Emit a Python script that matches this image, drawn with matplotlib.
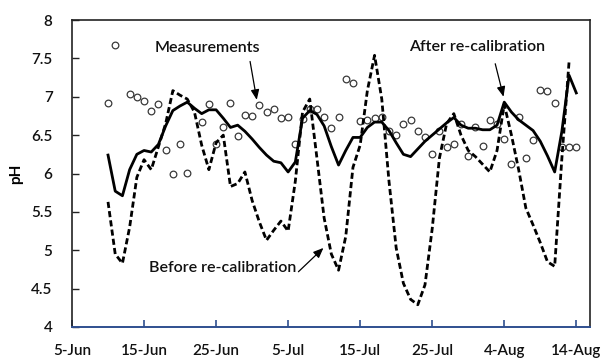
import matplotlib
matplotlib.use("Agg")
import matplotlib.pyplot as plt
import matplotlib.dates as mdates
import numpy as np
import pandas as pd

plt.rcParams["font.family"] = ["Lato", "DejaVu Sans"]

# after re-calibration (solid), daily from 10-Jun
after_start = "2015-06-10"
after_ph = [6.24, 5.77, 5.71, 6.05, 6.25, 6.30, 6.28, 6.38, 6.62, 6.82,
            6.88, 6.93, 6.85, 6.78, 6.83, 6.83, 6.72, 6.60, 6.63, 6.55,
            6.45, 6.34, 6.24, 6.16, 6.14, 6.02, 6.15, 6.72, 6.82, 6.77,
            6.62, 6.35, 6.11, 6.30, 6.47, 6.47, 6.60, 6.67, 6.67, 6.56,
            6.40, 6.25, 6.22, 6.32, 6.42, 6.50, 6.58, 6.66, 6.73, 6.63,
            6.59, 6.59, 6.57, 6.57, 6.63, 6.93, 6.80, 6.70, 6.63, 6.56,
            6.42, 6.23, 6.02, 6.55, 7.28, 7.05]

# before re-calibration (dashed), daily from 10-Jun
before_start = "2015-06-10"
before_ph = [5.63, 4.95, 4.83, 5.30, 5.95, 6.18, 6.05, 6.35, 6.65, 7.08,
             7.02, 6.97, 6.80, 6.37, 6.05, 6.40, 6.50, 5.83, 5.87, 6.02,
             5.65, 5.37, 5.13, 5.26, 5.38, 5.25, 5.90, 6.80, 6.97, 6.20,
             5.42, 4.95, 4.74, 5.18, 6.08, 6.37, 7.08, 7.54, 6.97, 5.90,
             5.03, 4.57, 4.36, 4.29, 4.55, 5.28, 6.20, 6.65, 6.78, 6.50,
             6.30, 6.22, 6.12, 6.02, 6.30, 6.90, 6.50, 6.05, 5.55, 5.33,
             5.10, 4.85, 4.79, 6.20, 7.46]

# measurements (circles), daily from 10-Jun, nan = no sample
meas_start = "2015-06-10"
meas_ph = [6.92, 7.67, np.nan, 7.04, 7.00, 6.94, 6.81, 6.91, 6.30, 6.00,
           6.38, 6.01, np.nan, 6.67, 6.91, 6.38, 6.60, 6.92, 6.49, 6.76,
           6.75, 6.89, 6.80, 6.84, 6.72, 6.73, 6.38, 6.71, 6.84, 6.84,
           6.73, 6.59, 6.73, 7.23, 7.18, 6.69, 6.70, 6.72, 6.73, 6.55,
           6.50, 6.64, 6.70, 6.55, 6.48, 6.26, 6.55, 6.35, 6.39, 6.65,
           6.23, 6.61, 6.36, 6.70, 6.65, 6.45, 6.13, 6.73, 6.20, 6.44,
           7.09, 7.08, 6.92, 6.34, 6.34, 6.34]

x_ticks = pd.date_range("2015-06-05", "2015-08-14", freq="10D")
y_ticks = [4, 4.5, 5, 5.5, 6, 6.5, 7, 7.5, 8]

after_dates = pd.date_range(after_start, periods=len(after_ph), freq="D")
before_dates = pd.date_range(before_start, periods=len(before_ph), freq="D")
meas_dates = pd.date_range(meas_start, periods=len(meas_ph), freq="D")

fig = plt.figure(figsize=(6.03, 3.6), dpi=100)
ax = fig.add_axes([0.1194, 0.0917, 0.8590, 0.8527])

ax.plot(meas_dates, meas_ph, linestyle="none", marker="o", markersize=4.8,
        markerfacecolor="white", markeredgecolor="#3a3a3a", markeredgewidth=0.9, zorder=2)
ax.plot(before_dates, before_ph, color="black", lw=2.0, dashes=(2.2, 1.15), zorder=3)
ax.plot(after_dates, after_ph, color="black", lw=2.0, zorder=4)

ax.set_xlim(pd.Timestamp("2015-06-05"), pd.Timestamp("2015-06-05") + pd.Timedelta(days=71.9))
ax.set_ylim(4, 8)
ax.set_xticks(x_ticks)
ax.xaxis.set_major_formatter(mdates.DateFormatter("%-d-%b"))
ax.set_yticks(y_ticks)
ax.set_yticklabels([f"{v:g}" for v in y_ticks])

ax.tick_params(axis="x", direction="in", length=5, width=1.2, color="#2f4f8f",
               labelsize=11, pad=12, labelcolor="#111111")
ax.tick_params(axis="y", direction="in", length=5, width=1.0, color="#222222",
               labelsize=11, pad=14, labelcolor="#111111")
for lab in ax.get_xticklabels() + ax.get_yticklabels():
    lab.set_fontweight("semibold")

for side in ["left", "top", "right"]:
    ax.spines[side].set_color("#222222")
    ax.spines[side].set_linewidth(1.2)
ax.spines["bottom"].set_color("#2f4f8f")
ax.spines["bottom"].set_linewidth(1.4)

ax.set_ylabel("pH", fontsize=11, fontweight="bold", labelpad=6)

d0 = pd.Timestamp("2015-06-05")
def day(n):
    return d0 + pd.Timedelta(days=n)

arrow = dict(arrowstyle="-|>,head_length=0.6,head_width=0.25", color="black", lw=0.9,
             shrinkA=0, shrinkB=0)
note = dict(fontsize=11.5, ha="center", va="center", fontweight="semibold", color="#111111")

ax.text(day(18.75), 7.64, "Measurements", **note)
ax.annotate("", xy=(day(25.65), 6.96), xytext=(day(24.72), 7.46), arrowprops=arrow)

ax.text(day(56.2), 7.65, "After re-calibration", **note)
ax.annotate("", xy=(day(59.9), 7.0), xytext=(day(58.75), 7.43), arrowprops=arrow)

ax.text(day(20.9), 4.77, "Before re-calibration", **note)
ax.annotate("", xy=(day(34.9), 5.03), xytext=(day(31.43), 4.72), arrowprops=arrow)

fig.savefig("out.png", dpi=100)
